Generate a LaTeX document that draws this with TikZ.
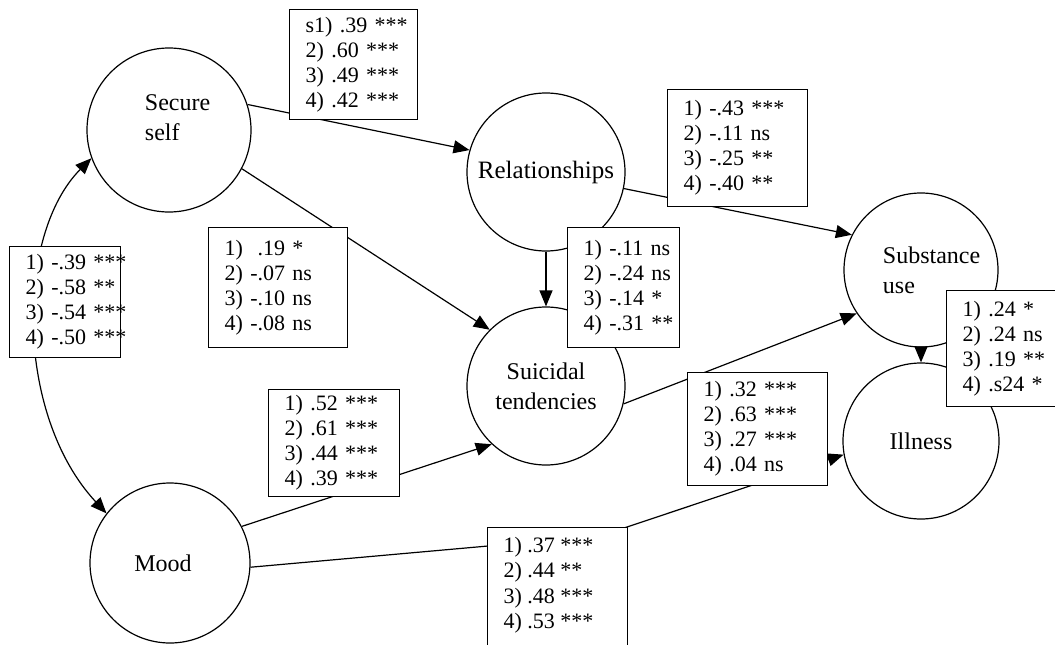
\documentclass[tikz,border=0pt]{standalone}
\usepackage{fontspec}
\setmainfont{Liberation Serif}
\usetikzlibrary{arrows.meta}
\begin{document}
\begin{tikzpicture}
[x=1pt,y=-1pt,line width=1.2pt,
  vardecorate/.style={shape=circle,draw,inner sep=0pt,minimum size=#1},%
  namedecorate/.style={align=left,font=\fontsize{24}{30}\selectfont},%
  coefdecorate/.style={draw,fill=white,anchor=north west,align=left,
    inner xsep=16pt,inner ysep=0pt,font=\fontsize{22}{25}\selectfont},%
  linedecorate/.style={-{Triangle[length=16pt,width=13pt]}}]
\clip (0,0) rectangle (1055,645);
%% latent variables
\foreach \nodename/\x/\y/\size in {secure/169/130/164, relation/546/172/158,
  substance/921/270/154, suicidal/546/386/158, illness/921/441/156,
  mood/170/563/160} {
  \node (\nodename) at (\x,\y) [vardecorate=\size] {};
}
\node [namedecorate,anchor=west] (securetext) at (141,118) {Secure\\self};
\node [namedecorate,font=\fontsize{25}{30}\selectfont] (relationtext) at (relation) {Relationships};
\node [namedecorate,anchor=west] (substancetext) at (879,270) {Substance\\use};
\node [namedecorate,align=center] (suicidaltext) at (suicidal) {Suicidal\\tendencies};
\node [namedecorate] (illnesstext) at (illness) {Illness};
\node [namedecorate] (moodtext) at (163,563) {Mood};
\coordinate (mibend) at (600,536);
%% paths
\path
\foreach \startnode/\endnode in {secure.18/relation.164, secure.-28/suicidal.135,
  relation.-12/substance.153, relation.south/suicidal.north,
  suicidal.-13/substance.214, substance.south/illness.north,
  mood.27/suicidal.-133} {
  (\startnode) edge[linedecorate] (\endnode)
};
\draw [linedecorate] (mood.-3) -- (mibend) -- (illness.-170);
\draw [{Triangle[length=16pt,width=13pt]}-{Triangle[length=16pt,width=13pt]}]
  (secure.200) .. controls (15,235) and (15,415) .. (mood.142);
%% coefficients
\foreach \boxname/\x/\y/\w/\h/\coef in {
  sr/289/9/128/110/{s1) .39 ***\\2) .60 ***\\3) .49 ***\\4) .42 ***},
  rs/667/89/140/117/{1) -.43 ***\\2) -.11 ns\\3) -.25 **\\4) -.40 **},
  ssu/208/227/139/120/{1) \phantom{-}.19 *\\2) -.07 ns\\3) -.10 ns\\4) -.08 ns},
  mixed/9/246/111/111/{1) -.39 ***\\2) -.58 **\\3) -.54 ***\\4) -.50 ***},
  rsu/567/227/112/120/{1) -.11 ns\\2) -.24 ns\\3) -.14 *\\4) -.31 **},
  si/946/290/130/116/{1) .24 *\\2) .24 ns\\3) .19 **\\4) .s24 *},
  sus/687/372/140/113/{1) .32 ***\\2) .63 ***\\3) .27 ***\\4) .04 ns},
  ms/268/389/131/107/{1) .52 ***\\2) .61 ***\\3) .44 ***\\4) .39 ***},
  mi/487/527/140/160/{}} {
  \node (\boxname) at (\x,\y) [coefdecorate,text width=\w pt-32pt,
    minimum height=\h] {\begin{tabular}{@{}l@{}}\coef\end{tabular}};
}
\node (mitext) at (mi.north west) [anchor=north west,xshift=16pt,yshift=-7pt,
  inner sep=0pt,font=\fontsize{22}{25.5}\selectfont]
  {\begin{tabular}{@{}l@{}}1) .37 ***\\2) .44 **\\3) .48 ***\\4) .53 ***\end{tabular}};
\end{tikzpicture}
\end{document}
